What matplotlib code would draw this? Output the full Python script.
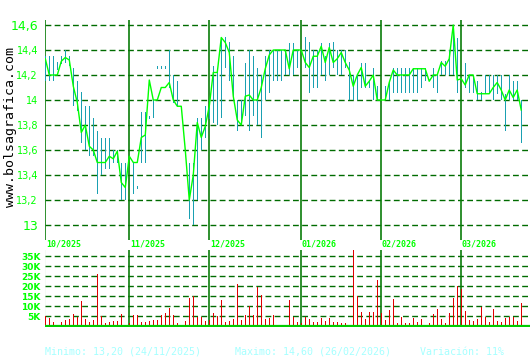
import numpy as np
import matplotlib
matplotlib.use("Agg")
import matplotlib.pyplot as plt
import matplotlib.transforms as mtransforms

# daily closes, one per trading session (oct 2025 - mar 2026)
close = [14.33, 14.20, 14.20, 14.20, 14.31, 14.34, 14.32, 14.11, 13.98, 13.74,
         13.80, 13.63, 13.60, 13.50, 13.50, 13.50, 13.55, 13.53, 13.59, 13.34,
         13.30, 13.55, 13.50, 13.50, 13.70, 13.72, 14.16, 14.00, 14.00, 14.10,
         14.10, 14.14, 14.00, 13.95, 13.95, 13.60, 13.20, 13.40, 13.82, 13.70,
         13.79, 13.95, 14.22, 14.22, 14.50, 14.46, 14.38, 14.03, 13.84, 13.80,
         14.03, 14.04, 14.00, 14.00, 14.10, 14.25, 14.36, 14.40, 14.40, 14.40,
         14.40, 14.25, 14.40, 14.40, 14.40, 14.30, 14.26, 14.35, 14.35, 14.43,
         14.30, 14.42, 14.30, 14.33, 14.38, 14.30, 14.24, 14.11, 14.20, 14.26,
         14.11, 14.15, 14.20, 14.00, 14.00, 14.00, 14.14, 14.24, 14.20, 14.20,
         14.20, 14.20, 14.25, 14.25, 14.25, 14.25, 14.15, 14.20, 14.20, 14.30,
         14.27, 14.33, 14.60, 14.16, 14.17, 14.12, 14.20, 14.20, 14.05, 14.05,
         14.05, 14.05, 14.10, 14.14, 14.08, 14.00, 14.08, 14.02, 14.08, 13.92]

nan = float("nan")
high = [14.35, 14.35, 14.35, 14.30, 14.35, 14.40, 14.35, 14.26, 14.15, 14.06,
        13.95, 13.95, 13.86, 13.75, 13.70, 13.70, 13.70, 13.60, 13.60, 13.50,
        13.50, nan, 13.50, 13.31, 13.90, 13.90, 13.87, 14.00, 14.27, 14.27,
        14.27, 14.40, 14.20, 14.15, nan, nan, 13.50, 13.50, 13.86, 13.86,
        13.95, 14.00, 14.27, 14.25, 14.50, 14.50, 14.46, 14.35, 14.00, 14.00,
        14.30, 14.40, 14.35, 14.26, 14.20, 14.35, 14.40, 14.40, 14.40, 14.40,
        14.40, 14.46, 14.46, 14.40, nan, 14.50, 14.46, 14.40, 14.40, 14.46,
        14.35, 14.46, 14.46, 14.40, 14.40, 14.40, 14.30, 14.20, 14.20, 14.30,
        14.30, 14.15, 14.26, 14.11, nan, 14.11, 14.15, 14.26, 14.26, 14.26,
        14.26, 14.26, 14.26, 14.26, 14.26, 14.26, nan, 14.26, 14.20, 14.31,
        14.31, 14.40, 14.60, 14.50, nan, 14.30, 14.20, 14.20, 14.15, 14.06,
        14.20, 14.20, 14.20, 14.20, 14.20, 14.05, 14.20, 14.15, 14.15, 14.00]

low = [14.15, 14.15, 14.15, 14.24, 14.29, 14.30, 14.27, 13.95, 13.91, 13.66,
       13.60, 13.55, 13.55, 13.25, 13.40, 13.45, 13.45, 13.50, 13.50, 13.20,
       13.20, nan, 13.25, 13.29, 13.50, 13.50, 13.85, 13.86, 14.25, 14.25,
       14.25, 14.10, 13.98, 13.95, nan, nan, 13.05, 13.00, 13.20, 13.60,
       13.70, 13.85, 13.82, 13.80, 13.86, 14.26, 14.15, 14.00, 13.75, 13.80,
       13.87, 13.75, 13.87, 13.80, 13.70, 14.00, 14.06, 14.15, 14.15, 14.15,
       14.20, 14.20, 14.20, 14.26, nan, 14.26, 14.06, 14.10, 14.10, 14.20,
       14.15, 14.20, 14.26, 14.20, 14.20, 14.26, 14.00, 14.00, 14.00, 14.10,
       14.10, 14.10, 14.00, 14.00, nan, 14.00, 14.00, 14.06, 14.06, 14.06,
       14.06, 14.06, 14.06, 14.06, 14.10, 14.15, nan, 14.10, 14.06, 14.20,
       14.20, 14.20, 14.20, 14.06, nan, 14.10, 14.06, 14.06, 14.00, 14.00,
       14.05, 14.05, 14.00, 14.05, 14.00, 13.75, 14.00, 14.00, 14.00, 13.66]

# volume in thousands of shares
volume = [5.0, 4.0, 2.0, 0.7, 2.0, 3.0, 3.7, 6.0, 4.7, 12.7,
          3.7, 2.0, 3.0, 26.0, 5.0, 1.3, 2.0, 2.7, 2.7, 6.0,
          0.7, 1.7, 5.3, 5.3, 2.0, 2.0, 2.7, 3.0, 3.0, 5.7,
          6.7, 9.0, 5.3, 1.3, 0.7, 2.7, 14.0, 15.0, 4.7, 4.3,
          2.7, 3.0, 6.3, 5.0, 13.0, 2.0, 2.7, 3.7, 21.0, 3.0,
          5.3, 10.0, 5.3, 19.7, 15.3, 3.7, 4.0, 5.3, 0.7, 0.7,
          0.7, 13.0, 4.7, 2.0, 1.7, 4.7, 3.3, 2.0, 2.0, 4.0,
          2.7, 4.0, 2.0, 2.0, 1.7, 1.7, 0.7, 38.0, 15.0, 7.0,
          3.7, 7.0, 7.0, 23.0, 6.7, 3.0, 8.0, 13.7, 1.3, 4.7,
          1.7, 1.7, 4.0, 2.0, 3.7, 0.7, 1.7, 6.0, 8.7, 3.7,
          1.7, 6.7, 14.0, 20.0, 18.7, 7.7, 3.0, 2.7, 3.7, 9.7,
          4.7, 2.0, 8.7, 2.7, 2.0, 4.0, 4.7, 4.7, 2.7, 11.7]

# first session of each month
month_start = [0, 21, 41, 64, 84, 104]
month_labels = ["10/2025", "11/2025", "12/2025", "01/2026", "02/2026", "03/2026"]

price_ticks = [13.0, 13.2, 13.4, 13.6, 13.8, 14.0, 14.2, 14.4, 14.6]
vol_ticks = [5, 10, 15, 20, 25, 30, 35]

GREEN = "#00ff00"
DARK = "#006b00"
MONTH = "#0a7d0a"
TEAL = "#1aa0b2"
RED = "#e00000"

days = np.arange(len(close))
spread = np.array(high) - np.array(low)

fig = plt.figure(figsize=(5.3, 3.6), dpi=100)
fig.patch.set_facecolor("white")

# price panel
ax = fig.add_axes([45 / 530, 1 - 240 / 360, 485 / 530, 220 / 360])
ax.set_xlim(-0.075, 121.2)
ax.set_ylim(12.88, 14.64)
for s in ax.spines.values():
    s.set_visible(False)

for t in price_ticks:
    ax.axhline(t, color=DARK, lw=1.0, dashes=(4.2, 2.4), zorder=1)
for m in month_start:
    ax.axvline(m, color=MONTH, lw=1.2, zorder=2)

# high-low range as thin bars (1 px wide)
ax.bar(days, spread, bottom=low, width=0.27, color=TEAL, linewidth=0, zorder=3)
ax.plot(days, close, color=GREEN, lw=1.0, zorder=4)

ax.set_xticks([])
ax.set_yticks(price_ticks)
ax.set_yticklabels([("%g" % t).replace(".", ",") for t in price_ticks])
ax.tick_params(axis="y", length=0, pad=5, colors=GREEN, labelsize=7)
for i, lab in enumerate(ax.get_yticklabels()):
    if i == 0 or i == len(price_ticks) - 1:
        lab.set_fontsize(9)

trans = mtransforms.blended_transform_factory(ax.transData, ax.transAxes)
for m, name in zip(month_start, month_labels):
    ax.text(m + 0.15, -0.018, name, transform=trans, ha="left", va="center",
            color=GREEN, fontsize=6, fontweight="bold", family="DejaVu Sans Mono")

# volume panel
vax = fig.add_axes([45 / 530, 1 - 327 / 360, 485 / 530, 77 / 360])
vax.set_xlim(-0.075, 121.2)
vax.set_ylim(-0.5, 38)
for s in vax.spines.values():
    s.set_visible(False)

for t in vol_ticks:
    vax.axhline(t, color=DARK, lw=1.0, dashes=(4.2, 2.4), zorder=1)
for m in month_start[1:]:
    vax.axvline(m, color=MONTH, lw=1.2, zorder=2)
vax.axvline(-0.3, color="#00cc00", lw=1.5, zorder=2)
vax.axhline(0, color="#00cc00", lw=1.6, zorder=4)

vax.bar(days, volume, width=0.27, color=RED, linewidth=0, zorder=3)

vax.set_xticks([])
vax.set_yticks(vol_ticks)
vax.set_yticklabels(["%dK" % t for t in vol_ticks])
vax.tick_params(axis="y", length=0, pad=3, colors=GREEN, labelsize=6.5)
for lab in vax.get_yticklabels():
    lab.set_fontweight("bold")

fig.text(11 / 530, 1 - 127 / 360, "www.bolsagrafica.com", rotation=90,
         ha="center", va="center", fontsize=9.5, family="DejaVu Sans Mono",
         color="black")

foot = "#a6ffff"
fig.text(45 / 530, 1 - 352 / 360, "Minimo: 13,20 (24/11/2025)", ha="left",
         va="center", fontsize=7.2, family="DejaVu Sans Mono", color=foot)
fig.text(235 / 530, 1 - 352 / 360, "Maximo: 14,60 (26/02/2026)", ha="left",
         va="center", fontsize=7.2, family="DejaVu Sans Mono", color=foot)
fig.text(420 / 530, 1 - 352 / 360, "Variación: 11%", ha="left",
         va="center", fontsize=7.2, family="DejaVu Sans Mono", color=foot)

fig.savefig("out.png", dpi=100)
